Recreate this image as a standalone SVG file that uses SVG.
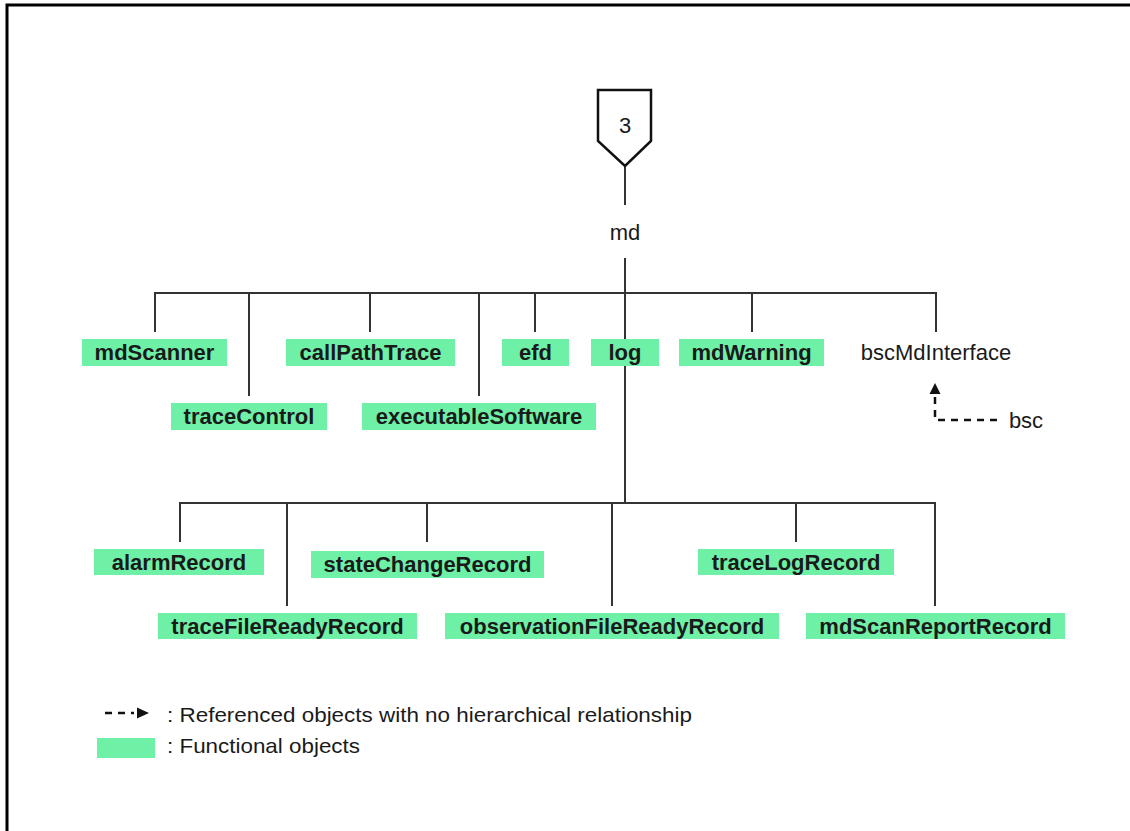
<svg xmlns="http://www.w3.org/2000/svg" width="1130" height="831" viewBox="0 0 1130 831">
  <style>
    .frame { fill: none; stroke: #000; stroke-width: 3; }
    .conn { fill: none; stroke: #333; stroke-width: 2; }
    .ref { fill: none; stroke: #111; stroke-width: 2.5; stroke-dasharray: 7 6; }
    .box { fill: #6ef0a6; }
    .lbl { font-family: "Liberation Sans", Arial, sans-serif; font-size: 22px; fill: #1a1a1a; text-anchor: middle; }
    .bold { font-weight: bold; }
    .legend { font-family: "Liberation Sans", Arial, sans-serif; font-size: 21px; fill: #1a1a1a; }
  </style>

  <!-- outer frame (top and left edges) -->
  <path class="frame" d="M7,831 V5 H1130"/>

  <!-- tree connectors -->
  <g id="connectors">
    <path class="conn" d="M625,166 V205"/>
    <path class="conn" d="M625,258 V339"/>
    <path class="conn" d="M155,332 V293 H936 V332"/>
    <path class="conn" d="M249,293 V396"/>
    <path class="conn" d="M370,293 V332"/>
    <path class="conn" d="M479,293 V396"/>
    <path class="conn" d="M535,293 V332"/>
    <path class="conn" d="M752,293 V332"/>
    <path class="conn" d="M625,366 V503"/>
    <path class="conn" d="M180,542 V503 H935 V606"/>
    <path class="conn" d="M287,503 V606"/>
    <path class="conn" d="M427,503 V542"/>
    <path class="conn" d="M612,503 V606"/>
    <path class="conn" d="M796,503 V542"/>
    <!-- reference from bsc to bscMdInterface -->
    <path class="ref" d="M997,420 H935 V394"/>
    <polygon points="935,383 929.5,394 940.5,394" fill="#111"/>
  </g>

  <!-- root connector symbol -->
  <g id="root3">
    <polygon points="598,90 651,90 651,141 625,166 598,141" fill="#fff" stroke="#111" stroke-width="2.5"/>
    <text class="lbl" x="625" y="133">3</text>
  </g>

  <g id="md"><text class="lbl" x="625" y="240">md</text></g>

  <g id="mdScanner"><rect class="box" x="82" y="339" width="145" height="27"/><text class="lbl bold" x="154.5" y="360">mdScanner</text></g>
  <g id="traceControl"><rect class="box" x="171" y="403" width="156" height="27"/><text class="lbl bold" x="249" y="424">traceControl</text></g>
  <g id="callPathTrace"><rect class="box" x="286" y="339" width="169" height="27"/><text class="lbl bold" x="370.5" y="360">callPathTrace</text></g>
  <g id="executableSoftware"><rect class="box" x="362" y="403" width="234" height="27"/><text class="lbl bold" x="479" y="424">executableSoftware</text></g>
  <g id="efd"><rect class="box" x="502" y="339" width="67" height="27"/><text class="lbl bold" x="535.5" y="360">efd</text></g>
  <g id="log"><rect class="box" x="591" y="339" width="68" height="27"/><text class="lbl bold" x="625" y="360">log</text></g>
  <g id="mdWarning"><rect class="box" x="679" y="339" width="145" height="27"/><text class="lbl bold" x="751.5" y="360">mdWarning</text></g>
  <g id="bscMdInterface"><text class="lbl" x="936" y="360">bscMdInterface</text></g>
  <g id="bsc"><text class="lbl" x="1026" y="428">bsc</text></g>

  <g id="alarmRecord"><rect class="box" x="94" y="549" width="170" height="26"/><text class="lbl bold" x="179" y="570">alarmRecord</text></g>
  <g id="stateChangeRecord"><rect class="box" x="311" y="551" width="233" height="27"/><text class="lbl bold" x="427.5" y="572">stateChangeRecord</text></g>
  <g id="traceLogRecord"><rect class="box" x="698" y="549" width="196" height="26"/><text class="lbl bold" x="796" y="570">traceLogRecord</text></g>
  <g id="traceFileReadyRecord"><rect class="box" x="158" y="613" width="259" height="26"/><text class="lbl bold" x="287.5" y="634">traceFileReadyRecord</text></g>
  <g id="observationFileReadyRecord"><rect class="box" x="445" y="613" width="334" height="26"/><text class="lbl bold" x="612" y="634">observationFileReadyRecord</text></g>
  <g id="mdScanReportRecord"><rect class="box" x="806" y="613" width="259" height="26"/><text class="lbl bold" x="935.5" y="634">mdScanReportRecord</text></g>

  <!-- legend -->
  <g id="legend">
    <path class="ref" d="M105,713 H134" stroke-dasharray="6 5"/>
    <polygon points="149,713 137,707.5 137,718.5" fill="#111"/>
    <text class="legend" x="167" y="722" textLength="525" lengthAdjust="spacingAndGlyphs">: Referenced objects with no hierarchical relationship</text>
    <rect class="box" x="97" y="738" width="58" height="20"/>
    <text class="legend" x="167" y="753" textLength="193" lengthAdjust="spacingAndGlyphs">: Functional objects</text>
  </g>
</svg>
